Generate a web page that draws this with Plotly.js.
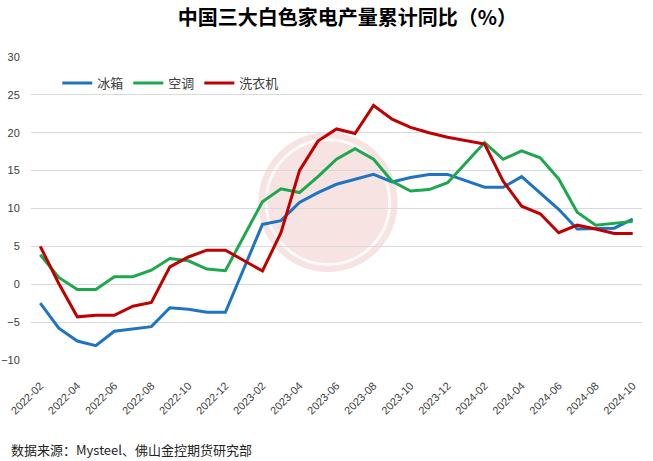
<!DOCTYPE html>
<html>
<head>
<meta charset="utf-8">
<script src="https://cdn.plot.ly/plotly-3.0.1.min.js"></script>
<style>
html,body{margin:0;padding:0;background:#fff;}
#chart{width:653px;height:461px;}
</style>
</head>
<body>
<div id="chart"></div>
<script>
// Months (January values are not published separately -> null, line connects across)
const months = ["2022-02","2022-03","2022-04","2022-05","2022-06","2022-07","2022-08","2022-09","2022-10","2022-11","2022-12",
  "2023-01","2023-02","2023-03","2023-04","2023-05","2023-06","2023-07","2023-08","2023-09","2023-10","2023-11","2023-12",
  "2024-01","2024-02","2024-03","2024-04","2024-05","2024-06","2024-07","2024-08","2024-09","2024-10"];
const tickLabels = ["2022-02","2022-04","2022-06","2022-08","2022-10","2022-12","2023-02","2023-04","2023-06","2023-08",
  "2023-10","2023-12","2024-02","2024-04","2024-06","2024-08","2024-10"];
const seriesNames = ["冰箱","空调","洗衣机"];
const fridge = [-2.5,-5.8,-7.5,-8.1,-6.2,-5.9,-5.6,-3.1,-3.3,-3.7,-3.7,null,7.9,8.4,10.8,12.1,13.2,13.9,14.5,13.5,14.1,14.5,14.5,null,12.8,12.8,14.2,12.1,9.9,7.3,7.3,7.4,8.6];
const aircon = [3.9,0.9,-0.7,-0.7,1.0,1.0,1.85,3.4,3.1,2.0,1.8,null,10.9,12.6,12.1,14.2,16.5,17.9,16.5,13.6,12.3,12.5,13.4,null,18.7,16.5,17.6,16.7,13.9,9.5,7.8,8.0,8.3];
const washer = [5.0,0.1,-4.3,-4.1,-4.1,-2.9,-2.4,2.3,3.6,4.5,4.5,null,1.75,6.8,15.0,18.9,20.5,19.9,23.6,21.8,20.7,20.0,19.4,null,18.5,13.6,10.3,9.3,6.8,7.8,7.3,6.7,6.7];
const colors = ["#1F74C2","#1DA84E","#C00000"];

const font = "Liberation Sans, Arial, Noto Sans CJK SC, sans-serif";
const cjk = "Noto Sans CJK SC, sans-serif";

const traces = [fridge, aircon, washer].map((ys, k) => ({
  type: "scatter", mode: "lines", x: months, y: ys, name: seriesNames[k],
  connectgaps: true, line: {color: colors[k], width: 3}, hoverinfo: "skip"
}));

// boundary tick positions (every two months) for the zero-line axis
const n = months.length;
const boundaryTicks = [];
for (let i = 0; i < n - 1; i += 2) boundaryTicks.push(i - 0.5);

const zeroAxis = (dir) => ({
  overlaying: "x", anchor: "free", position: 0.25, type: "linear",
  range: [-0.5, n - 0.5], showline: true, linecolor: "#000", linewidth: 1,
  ticks: dir, ticklen: 6, tickwidth: 1, tickcolor: "#000",
  tickmode: "array", tickvals: boundaryTicks, showticklabels: false,
  showgrid: false, zeroline: false
});

const layout = {
  width: 653, height: 461,
  margin: {l: 31, r: 11, t: 57, b: 101},
  paper_bgcolor: "#fff", plot_bgcolor: "#fff",
  showlegend: true,
  title: {text: "<b>中国三大白色家电产量累计同比（%）</b>", font: {family: cjk, size: 20, color: "#000"},
          x: 0.532, xanchor: "center", y: 0.962, yanchor: "middle"},
  legend: {orientation: "h", x: 0.043, xanchor: "left", y: 0.914, yanchor: "middle",
           font: {family: cjk, size: 13, color: "#404040"}, bgcolor: "rgba(0,0,0,0)", traceorder: "normal"},
  xaxis: {type: "category", categoryorder: "array", categoryarray: months, range: [-0.5, n - 0.5],
          tickmode: "array", tickvals: tickLabels, ticktext: tickLabels, tickangle: -45,
          ticks: "outside", ticklen: 14, tickcolor: "rgba(0,0,0,0)",
          showgrid: false, showline: false, zeroline: false,
          tickfont: {family: font, size: 11, color: "#404040"}},
  xaxis2: zeroAxis("outside"),
  xaxis3: zeroAxis("inside"),
  yaxis: {range: [-10, 30], dtick: 5, tick0: 0, showgrid: true, gridcolor: "#d9d9d9", gridwidth: 1,
          zeroline: false, showline: false, ticks: "outside", ticklen: 8, tickcolor: "rgba(0,0,0,0)",
          tickfont: {family: font, size: 11, color: "#404040"}},
  shapes: [
    {type: "circle", xref: "paper", yref: "paper", layer: "below",
     x0: 0.372, x1: 0.600, y0: 0.290, y1: 0.752,
     fillcolor: "rgba(226,140,140,0.24)", line: {width: 0}},
    {type: "circle", xref: "paper", yref: "paper", layer: "below",
     x0: 0.385, x1: 0.587, y0: 0.315, y1: 0.727,
     fillcolor: "rgba(0,0,0,0)", line: {color: "rgba(255,255,255,0.8)", width: 3}}
  ],
  annotations: [
    {text: "数据来源：Mysteel、佛山金控期货研究部", xref: "paper", yref: "paper",
     x: -0.036, xanchor: "left", y: -0.295, yanchor: "middle", showarrow: false,
     font: {family: cjk, size: 13, color: "#222"}}
  ]
};

Plotly.newPlot("chart", traces, layout, {staticPlot: true, displayModeBar: false});
</script>
</body>
</html>
